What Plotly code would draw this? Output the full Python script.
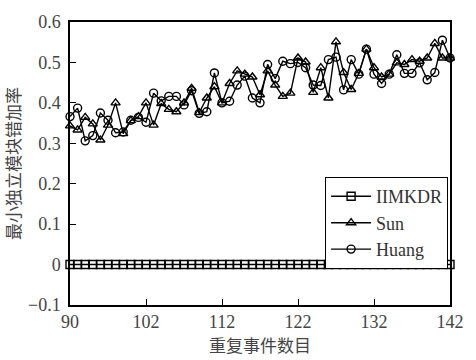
import plotly.graph_objects as go

x_vals = list(range(90, 141))

iimkdr = [0.0] * 51

sun = [0.343, 0.333, 0.364, 0.348, 0.308, 0.345, 0.400, 0.324, 0.356, 0.366,
       0.400, 0.345, 0.398, 0.384, 0.378, 0.400, 0.436, 0.376, 0.412, 0.440,
       0.400, 0.448, 0.479, 0.471, 0.464, 0.420, 0.479, 0.444, 0.416, 0.424,
       0.511, 0.501, 0.426, 0.487, 0.412, 0.551, 0.475, 0.433, 0.473, 0.533,
       0.487, 0.464, 0.471, 0.499, 0.495, 0.507, 0.503, 0.511, 0.547, 0.511,
       0.511]

huang = [0.366, 0.387, 0.306, 0.319, 0.375, 0.357, 0.326, 0.328, 0.357, 0.364,
         0.352, 0.424, 0.405, 0.416, 0.416, 0.395, 0.430, 0.374, 0.378, 0.474,
         0.400, 0.404, 0.444, 0.466, 0.412, 0.400, 0.495, 0.460, 0.503, 0.497,
         0.500, 0.487, 0.444, 0.443, 0.507, 0.513, 0.432, 0.507, 0.471, 0.533,
         0.471, 0.448, 0.471, 0.519, 0.473, 0.473, 0.499, 0.457, 0.475, 0.555,
         0.511]

x_tickvals = [90, 100, 110, 120, 130, 140]
x_ticktext = ["90", "102", "112", "122", "132", "142"]
y_tickvals = [-0.1, 0, 0.1, 0.2, 0.3, 0.4, 0.5, 0.6]
y_ticktext = ["\u22120.1", "0", "0.1", "0.2", "0.3", "0.4", "0.5", "0.6"]

NUMFONT = "Liberation Serif"
CJKFONT = "Noto Sans CJK SC"

fig = go.Figure()
series = [
    ("IIMKDR", iimkdr, "square-open"),
    ("Sun", sun, "triangle-up-open"),
    ("Huang", huang, "circle-open"),
]
for name, ys, sym in series:
    fig.add_trace(go.Scatter(
        x=x_vals, y=ys, name=name, mode="lines+markers",
        line=dict(color="black", width=1.4),
        marker=dict(symbol=sym, size=8, color="black", line=dict(width=1.4, color="black")),
        cliponaxis=False,
    ))

fig.update_layout(
    width=476, height=360,
    margin=dict(l=66, r=16, t=16, b=50),
    paper_bgcolor="white", plot_bgcolor="white",
    font=dict(family=NUMFONT, size=18, color="#444"),
    showlegend=True,
    legend=dict(
        x=0.995, y=0.452, xanchor="right", yanchor="top",
        bordercolor="black", borderwidth=1, bgcolor="white",
        font=dict(family=NUMFONT, size=18, color="#333"),
        tracegroupgap=0, itemwidth=40,
    ),
    xaxis=dict(
        range=[90, 140], tickvals=x_tickvals, ticktext=x_ticktext,
        tickfont=dict(family=NUMFONT, size=18, color="#444"),
        showline=True, linecolor="black", linewidth=1.5, mirror=True,
        ticks="inside", ticklen=6, tickcolor="black", tickwidth=1.2,
        showgrid=False, zeroline=False,
        title=dict(text="重复事件数目", font=dict(family=CJKFONT, size=17, color="#444"), standoff=4),
    ),
    yaxis=dict(
        range=[-0.1, 0.6], tickvals=y_tickvals, ticktext=y_ticktext,
        tickfont=dict(family=NUMFONT, size=18, color="#444"),
        ticklabelstandoff=4,
        showline=True, linecolor="black", linewidth=1.5, mirror=True,
        ticks="inside", ticklen=6, tickcolor="black", tickwidth=1.2,
        showgrid=False, zeroline=False,
        title=dict(text="最小独立模块错加率", font=dict(family=CJKFONT, size=17, color="#444"), standoff=4),
    ),
)

fig.write_html("out.html")
